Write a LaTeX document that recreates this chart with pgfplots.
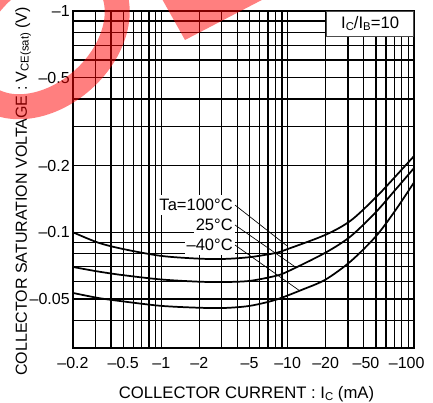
\documentclass[border=0pt]{standalone}
\usepackage{pgfplots}
\pgfplotsset{compat=1.18}
\usepackage{fontspec}
\setmainfont{Liberation Sans}
\newcommand\sub[1]{\raisebox{-0.2ex}{\fontsize{8.5}{9}\selectfont #1}}
\begin{document}
\begin{tikzpicture}[x=0.75pt,y=0.75pt]
\useasboundingbox (-73,-55) rectangle (360,348);
\begin{axis}[
  at={(0,0)}, anchor=south west,
  scale only axis, width=255.75pt, height=252.75pt,
  xmode=log, ymode=log,
  xmin=0.2, xmax=100, ymin=0.03, ymax=1,
  xtick={0.2,0.5,1,2,5,10,20,50,100},
  xticklabels={–0.2,–0.5,–1,–2,–5,–10,–20,{–50\hspace*{15pt}},{–100\hspace*{11pt}}},
  minor xtick={0.3,0.4,0.6,0.7,0.8,0.9,3,4,6,7,8,9,30,40,60,70,80,90},
  ytick={0.05,0.1,0.2,0.5,1},
  yticklabels={–0.05,–0.1,–0.2,–0.5,–1},
  minor ytick={0.03,0.04,0.06,0.07,0.08,0.09,0.3,0.4,0.6,0.7,0.8,0.9},
  grid=both,
  major grid style={black, line width=1pt},
  minor grid style={black, line width=1pt},
  major tick length=0pt, minor tick length=0pt,
  axis line style={black, line width=1.2pt},
  tick label style={font=\fontsize{12}{14}\selectfont},
  xticklabel style={anchor=base, yshift=-15pt},
  yticklabel style={anchor=east, inner xsep=0pt, xshift=-2.25pt},
  xlabel={COLLECTOR CURRENT : I\sub{C} (mA)},
  ylabel={COLLECTOR SATURATION VOLTAGE : V\sub{CE(sat)} (V)},
  xlabel style={at={(rel axis cs:0.5088,-0.1513)}, anchor=base, font=\fontsize{12.5}{14}\selectfont},
  ylabel style={at={(rel axis cs:-0.1349,0.4644)}, anchor=base, font=\fontsize{12}{14}\selectfont},
]
\node[fill=white, draw=black!70, line width=0.6pt, anchor=north east, minimum width=65.25pt, minimum height=18.75pt, inner sep=0pt, font=\fontsize{12.5}{14}\selectfont] at (rel axis cs:1,1) {I\sub{C}/I\sub{B}=10};
\node[fill=white, anchor=east, inner xsep=1.5pt, inner ysep=2.5pt, text height=9pt, text depth=1pt, font=\fontsize{12.4}{14}\selectfont] at (axis cs:3.83,0.1328) {Ta=100°C};
\node[fill=white, anchor=east, inner xsep=1.5pt, inner ysep=2.5pt, text height=9pt, text depth=1pt, font=\fontsize{12.4}{14}\selectfont] at (axis cs:3.83,0.1079) {25°C};
\node[fill=white, anchor=east, inner xsep=1.5pt, inner ysep=2.5pt, text height=9pt, text depth=1pt, font=\fontsize{12.4}{14}\selectfont] at (axis cs:3.83,0.0876) {–40°C};
\draw[line width=0.5pt] (axis cs:3.83,0.1328) -- (axis cs:9.84,0.0870);
\draw[line width=0.5pt] (axis cs:3.83,0.1079) -- (axis cs:11.8,0.0690);
\draw[line width=0.5pt] (axis cs:3.83,0.0876) -- (axis cs:12.4,0.0545);
% Ta = 100 C
\addplot[black, line width=1.3pt, smooth] coordinates {
(0.2,0.100) (0.316,0.0898) (0.5,0.0840) (1,0.0782) (2,0.0760) (3.16,0.0758) (5,0.0772) (8,0.0806) (10,0.0840) (20,0.0975) (31.6,0.1130) (50,0.1440) (70.8,0.178) (100,0.221)};
% Ta = 25 C
\addplot[black, line width=1.3pt, smooth] coordinates {
(0.2,0.0697) (0.316,0.0665) (0.5,0.0640) (1,0.0612) (2,0.0598) (3.16,0.0596) (5,0.0603) (8,0.0635) (10,0.0665) (20,0.0810) (31.6,0.0960) (50,0.1235) (70.8,0.155) (100,0.195)};
% Ta = -40 C
\addplot[black, line width=1.3pt, smooth] coordinates {
(0.2,0.0532) (0.316,0.0505) (0.5,0.0487) (1,0.0465) (2,0.0456) (3.16,0.0455) (5,0.0465) (8,0.0495) (13,0.0550) (20,0.0612) (31.6,0.0740) (50,0.0960) (70.8,0.125) (100,0.168)};
\end{axis}
% watermark
\fill[red, opacity=0.5] (84,358) -- (112,308) -- (208,358) -- cycle;
\draw[red, opacity=0.5, line width=18.75pt, rotate around={42:(-30,313)}] (-30,313) ellipse [x radius=84, y radius=60];
\end{tikzpicture}
\end{document}
